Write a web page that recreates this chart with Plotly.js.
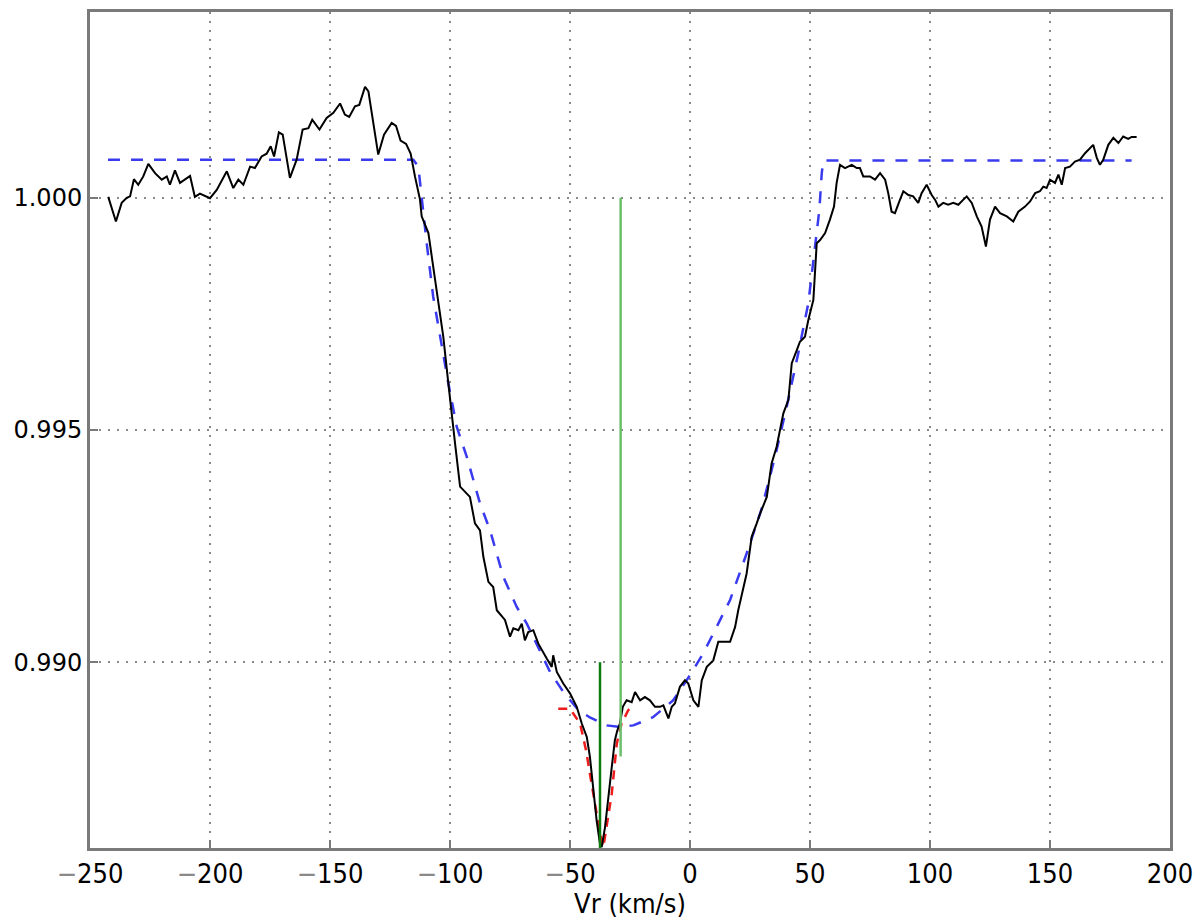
<!DOCTYPE html>
<html>
<head>
<meta charset="utf-8">
<script src="https://cdn.plot.ly/plotly-3.0.1.min.js"></script>
<style>
  html, body { margin: 0; padding: 0; background: #fff; }
  #grafico { width: 1200px; height: 919px; }
</style>
</head>
<body>
<div id="grafico"></div>
<script>
const specV = [-242.4, -239.2, -236.8, -234.7, -233.3, -231.7, -229.9, -227.8, -225.7, -222.9,
  -220.1, -218.0, -216.7, -214.6, -212.5, -208.3, -206.3, -204.2, -200.0, -197.2,
  -193.0, -190.3, -188.2, -186.1, -183.3, -181.3, -178.5, -176.4, -174.7, -173.3,
  -171.3, -169.7, -166.7, -163.9, -161.4, -159.0, -157.4, -154.4, -151.4, -148.6,
  -145.8, -143.8, -142.0, -139.6, -137.8, -135.4, -134.0, -131.9, -129.9, -127.5,
  -124.3, -122.5, -120.6, -118.3, -116.4, -114.6, -112.5, -111.8, -109.0, -107.0,
  -104.9, -102.8, -100.7, -99.3, -97.9, -95.8, -91.7, -89.6, -87.5, -86.1,
  -84.0, -82.0, -80.5, -77.1, -75.0, -73.6, -71.5, -70.1, -68.8, -67.4,
  -65.3, -63.2, -62.5, -59.7, -57.6, -57.0, -55.5, -52.8, -50.0, -47.2,
  -45.1, -43.0, -41.7, -40.3, -38.9, -37.5, -36.8, -35.4, -34.0, -32.6,
  -31.3, -30.3, -29.2, -28.0, -26.4, -24.3, -22.9, -20.8, -18.8, -16.7,
  -14.6, -12.5, -11.1, -9.0, -7.6, -6.3, -4.2, -2.1, -0.7, 1.4,
  3.5, 4.9, 7.0, 9.7, 11.8, 16.7, 18.8, 20.1, 23.6, 25.7,
  27.8, 29.2, 32.0, 34.0, 36.1, 37.5, 38.9, 41.0, 42.4, 44.5,
  45.8, 47.9, 49.3, 51.4, 52.8, 54.2, 56.3, 58.3, 60.0, 61.1,
  62.5, 64.6, 67.4, 69.5, 70.8, 72.2, 75.0, 77.1, 79.2, 81.3,
  82.6, 84.0, 85.4, 87.5, 88.9, 91.0, 93.0, 95.1, 96.5, 98.6,
  100.7, 102.1, 103.5, 105.5, 107.6, 109.7, 111.8, 113.9, 115.3, 117.4,
  119.5, 121.5, 123.3, 125.0, 127.1, 129.2, 132.0, 134.7, 136.8, 139.6,
  141.7, 143.8, 145.8, 147.2, 148.6, 150.0, 152.1, 153.5, 154.9, 156.3,
  158.3, 160.4, 162.5, 164.6, 166.0, 168.0, 169.5, 170.8, 172.2, 174.3,
  176.4, 178.5, 180.5, 182.6, 184.0, 186.1]
const specFlux = [1.00002, 0.99949, 0.99989, 1.00000, 1.00003, 1.00040, 1.00028, 1.00046, 1.00073, 1.00053,
  1.00039, 1.00046, 1.00028, 1.00059, 1.00032, 1.00047, 1.00002, 1.00009, 0.99999, 1.00017,
  1.00057, 1.00021, 1.00039, 1.00028, 1.00067, 1.00064, 1.00089, 1.00095, 1.00111, 1.00089,
  1.00141, 1.00136, 1.00043, 1.00082, 1.00147, 1.00150, 1.00168, 1.00147, 1.00172, 1.00183,
  1.00203, 1.00179, 1.00174, 1.00197, 1.00200, 1.00239, 1.00229, 1.00161, 1.00093, 1.00136,
  1.00161, 1.00155, 1.00123, 1.00116, 1.00095, 1.00046, 0.99996, 0.99960, 0.99924, 0.99852,
  0.99780, 0.99701, 0.99601, 0.99529, 0.99471, 0.99378, 0.99356, 0.99299, 0.99284, 0.99227,
  0.99173, 0.99162, 0.99112, 0.99091, 0.99055, 0.99073, 0.99069, 0.99083, 0.99047, 0.99065,
  0.99069, 0.99040, 0.99033, 0.99008, 0.98990, 0.99015, 0.98979, 0.98954, 0.98933, 0.98904,
  0.98868, 0.98839, 0.98796, 0.98731, 0.98659, 0.98609, 0.98602, 0.98645, 0.98703, 0.98774,
  0.98832, 0.98853, 0.98868, 0.98904, 0.98918, 0.98914, 0.98936, 0.98918, 0.98925, 0.98918,
  0.98904, 0.98904, 0.98907, 0.98879, 0.98904, 0.98911, 0.98947, 0.98961, 0.98954, 0.98918,
  0.98904, 0.98961, 0.98990, 0.99004, 0.99044, 0.99044, 0.99076, 0.99112, 0.99191, 0.99270,
  0.99299, 0.99320, 0.99356, 0.99428, 0.99464, 0.99504, 0.99536, 0.99565, 0.99644, 0.99672,
  0.99690, 0.99701, 0.99737, 0.99780, 0.99902, 0.99909, 0.99924, 0.99953, 0.99981, 1.00032,
  1.00071, 1.00064, 1.00071, 1.00064, 1.00064, 1.00046, 1.00046, 1.00039, 1.00053, 1.00039,
  1.00010, 0.99970, 0.99967, 0.99996, 1.00014, 1.00006, 1.00003, 0.99989, 1.00010, 1.00028,
  1.00006, 0.99996, 0.99981, 0.99989, 0.99985, 0.99989, 0.99985, 0.99996, 1.00003, 0.99989,
  0.99960, 0.99938, 0.99895, 0.99953, 0.99981, 0.99967, 0.99960, 0.99949, 0.99970, 0.99981,
  0.99992, 1.00010, 1.00014, 1.00024, 1.00021, 1.00039, 1.00032, 1.00050, 1.00028, 1.00064,
  1.00067, 1.00078, 1.00082, 1.00096, 1.00103, 1.00114, 1.00086, 1.00071, 1.00082, 1.00114,
  1.00129, 1.00118, 1.00132, 1.00127, 1.00131, 1.00131]

// perfil de rotacao ajustado (azul tracejado)
const modelV = [-242.5, -115.3, -113.2, -111.8, -109.7, -107.0, -104.2, -100.7, -97.2, -93.0,
  -87.5, -83.3, -77.8, -72.2, -68.0, -62.5, -58.3, -52.8, -46.5, -41.7,
  -34.7, -29.9, -23.6, -15.3, -7.0, 0.0, 5.5, 11.1, 16.7, 23.6,
  29.9, 35.4, 40.3, 45.1, 49.3, 52.1, 53.9, 54.9, 55.5, 184.0]
const modelFlux = [1.00082, 1.00082, 1.00067, 0.99996, 0.99902, 0.99787, 0.99701, 0.99601, 0.99507, 0.99442,
  0.99342, 0.99284, 0.99184, 0.99119, 0.99083, 0.99026, 0.98979, 0.98936, 0.98897, 0.98881,
  0.98864, 0.98861, 0.98864, 0.98882, 0.98918, 0.98972, 0.99019, 0.99076, 0.99134, 0.99234,
  0.99331, 0.99442, 0.99550, 0.99665, 0.99773, 0.99895, 0.99974, 1.00053, 1.00080, 1.00080]

// componente estreita (vermelho tracejado)
const gaussV = [-54.9, -50.0, -45.8, -43.3, -41.7, -39.6, -37.5, -36.1, -34.7, -32.6,
  -30.5, -28.5, -25.7, -24.7]
const gaussFlux = [0.98900, 0.98900, 0.98868, 0.98810, 0.98760, 0.98695, 0.98631, 0.98602, 0.98645, 0.98717,
  0.98825, 0.98868, 0.98897, 0.98901]

// marcadores verticais de velocidade
const narrowMarkV = [-37.5, -37.5]
const narrowMarkFlux = [0.990, 0.986]
const broadMarkV = [-28.9, -28.9]
const broadMarkFlux = [1.000, 0.98797]

// rotulos dos eixos
const xTickVals = [-250, -200, -150, -100, -50, 0, 50, 100, 150, 200]
const xTickText = ['−250', '−200', '−150', '−100', '−50', '0', '50', '100', '150', '200']
const yTickVals = [0.990, 0.995, 1.000]
const yTickText = ['0.990', '0.995', '1.000']

const fonte = 'DejaVu Sans, Verdana, sans-serif'
const fonteX = 'DejaVu Sans Condensed, DejaVu Sans, sans-serif'

// o sinal de menos aparece cinzento no original
const xTickLabels = xTickText.map(t => t.startsWith('−')
  ? '<span style="color:#8a8a8a">−</span>' + t.slice(1) : t)

const traces = [
  {
    x: modelV, y: modelFlux, type: 'scatter', mode: 'lines',
    line: { color: '#3a3aee', width: 2.5, dash: '12px,11px' }, hoverinfo: 'skip'
  },
  {
    x: gaussV, y: gaussFlux, type: 'scatter', mode: 'lines',
    line: { color: '#ee1c1c', width: 2.5, dash: '9px,7px' }, hoverinfo: 'skip'
  },
  {
    x: specV, y: specFlux, type: 'scatter', mode: 'lines',
    line: { color: '#000000', width: 2 }, hoverinfo: 'skip'
  },
  {
    x: narrowMarkV, y: narrowMarkFlux, type: 'scatter', mode: 'lines',
    line: { color: '#0c7d0c', width: 2.5 }, hoverinfo: 'skip'
  },
  {
    x: broadMarkV, y: broadMarkFlux, type: 'scatter', mode: 'lines',
    line: { color: '#6cbf6c', width: 2.5 }, hoverinfo: 'skip'
  }
]

const layout = {
  width: 1200,
  height: 919,
  showlegend: false,
  paper_bgcolor: '#ffffff',
  plot_bgcolor: '#ffffff',
  margin: { l: 90, r: 30, t: 12, b: 71 },
  font: { family: fonte, size: 24, color: '#000' },
  xaxis: {
    range: [-250, 200],
    tickmode: 'array',
    tickvals: xTickVals,
    ticktext: xTickLabels,
    showgrid: true,
    gridcolor: '#8a8a8a',
    gridwidth: 1.5,
    griddash: '2px,7px',
    zeroline: false,
    showline: true,
    linecolor: '#7a7a7a',
    linewidth: 3,
    mirror: true,
    ticks: 'inside',
    ticklen: 8,
    tickcolor: '#7a7a7a',
    tickwidth: 1.5,
    tickfont: { family: fonteX, size: 27 },
    title: { text: 'Vr (km/s)', font: { family: fonteX, size: 27 }, standoff: 2 }
  },
  yaxis: {
    range: [0.986, 1.004],
    tickmode: 'array',
    tickvals: yTickVals,
    ticktext: yTickText,
    showgrid: true,
    gridcolor: '#8a8a8a',
    gridwidth: 1.5,
    griddash: '2px,7px',
    zeroline: false,
    showline: true,
    linecolor: '#7a7a7a',
    linewidth: 3,
    mirror: true,
    ticks: 'inside',
    ticklen: 8,
    tickcolor: '#7a7a7a',
    tickwidth: 1.5,
    tickfont: { family: fonte, size: 24 }
  }
}

Plotly.newPlot('grafico', traces, layout, { displayModeBar: false, staticPlot: true })
</script>
</body>
</html>
